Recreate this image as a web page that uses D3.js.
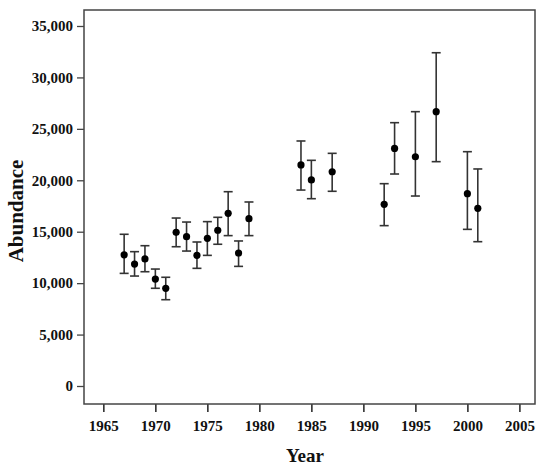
<!DOCTYPE html>
<html>
<head>
<meta charset="utf-8">
<script src="https://cdn.jsdelivr.net/npm/d3@7"></script>
<style>
    body { margin: 0; background: #fff; }
    text { font-family: "Liberation Serif", "Times New Roman", serif; font-weight: bold; }
</style>
</head>
<body>
<div id="chart"></div>
<script>
// survey years and abundance estimates with error bars
var years = [1967, 1968, 1969, 1970, 1971, 1972, 1973, 1974, 1975, 1976, 1977, 1978, 1979,
    1984, 1985, 1987, 1992, 1993, 1995, 1997, 2000, 2001];
var abundance = [12750, 11850, 12350, 10400, 9500, 14940, 14520, 12700, 14360, 15140, 16790, 12930, 16270,
    21490, 20030, 20830, 17660, 23100, 22290, 26670, 18700, 17270];
var lower = [10950, 10690, 11110, 9500, 8390, 13540, 13120, 11440, 12700, 13780, 14620, 11630, 14620,
    19050, 18210, 18930, 15590, 20610, 18470, 21810, 15230, 14030];
var upper = [14750, 13060, 13640, 11370, 10570, 16330, 15940, 14000, 15980, 16400, 18890, 14100, 17890,
    23820, 21940, 22620, 19670, 25600, 26670, 32400, 22780, 21100];
var xTicks = [1965, 1970, 1975, 1980, 1985, 1990, 1995, 2000, 2005];
var yTicks = [0, 5000, 10000, 15000, 20000, 25000, 30000, 35000];

var w = 550;
var h = 468;
// plot box edges (don't call these top/left: window.top is taken)
var padL = 84, padR = 535, padT = 10, padB = 404;

var dataset = years.map(function (d, i) {
    return { year: d, value: abundance[i], lo: lower[i], hi: upper[i] };
});

var xScale = d3.scaleLinear()
    .domain([1963.14, 2006.5])
    .range([padL, padR]);

var yScale = d3.scaleLinear()
    .domain([-1750, 36555])
    .range([padB, padT]);

var svg = d3.select("#chart")
    .append("svg")
    .attr("width", w)
    .attr("height", h);

// x axis
var xAxis = d3.axisBottom(xScale)
    .tickValues(xTicks)
    .tickFormat(d3.format("d"))
    .tickSize(8)
    .tickSizeOuter(0);

var gx = svg.append("g")
    .attr("transform", "translate(0," + padB + ")")
    .call(xAxis);
gx.select(".domain").remove();
gx.selectAll("line").attr("stroke", "#222").attr("stroke-width", 1.5);
gx.selectAll("text")
    .attr("dy", "0.71em")
    .attr("y", 16)
    .style("font-size", "15px")
    .attr("fill", "#111");

// y axis
var yAxis = d3.axisLeft(yScale)
    .tickValues(yTicks)
    .tickFormat(d3.format(","))
    .tickSize(7)
    .tickSizeOuter(0);

var gy = svg.append("g")
    .attr("transform", "translate(" + padL + ",0)")
    .call(yAxis);
gy.select(".domain").remove();
gy.selectAll("line").attr("stroke", "#444").attr("stroke-width", 1.3);
gy.selectAll("text")
    .attr("x", -11)
    .style("font-size", "15px")
    .attr("fill", "#111");

// frame
svg.append("rect")
    .attr("x", padL)
    .attr("y", padT)
    .attr("width", padR - padL)
    .attr("height", padB - padT)
    .attr("fill", "none")
    .attr("stroke", "#444")
    .attr("stroke-width", 1.5);

// error bars
var bars = svg.append("g")
    .selectAll("g")
    .data(dataset)
    .enter()
    .append("g")
    .attr("stroke", "#333")
    .attr("stroke-width", 1.6);

bars.append("line")
    .attr("x1", function (d) { return xScale(d.year); })
    .attr("x2", function (d) { return xScale(d.year); })
    .attr("y1", function (d) { return yScale(d.lo); })
    .attr("y2", function (d) { return yScale(d.hi); });

bars.append("line")
    .attr("x1", function (d) { return xScale(d.year) - 4.5; })
    .attr("x2", function (d) { return xScale(d.year) + 4.5; })
    .attr("y1", function (d) { return yScale(d.hi); })
    .attr("y2", function (d) { return yScale(d.hi); });

bars.append("line")
    .attr("x1", function (d) { return xScale(d.year) - 4.5; })
    .attr("x2", function (d) { return xScale(d.year) + 4.5; })
    .attr("y1", function (d) { return yScale(d.lo); })
    .attr("y2", function (d) { return yScale(d.lo); });

// points
svg.append("g")
    .selectAll("circle")
    .data(dataset)
    .enter()
    .append("circle")
    .attr("cx", function (d) { return xScale(d.year); })
    .attr("cy", function (d) { return yScale(d.value); })
    .attr("r", 3.6)
    .attr("fill", "#000");

// axis titles
svg.append("text")
    .attr("text-anchor", "middle")
    .attr("x", 305)
    .attr("y", 462)
    .style("font-size", "19px")
    .attr("fill", "#111")
    .text("Year");

svg.append("text")
    .attr("text-anchor", "middle")
    .attr("transform", "translate(23,211) rotate(-90)")
    .style("font-size", "21px")
    .attr("fill", "#111")
    .text("Abundance");
</script>
</body>
</html>
